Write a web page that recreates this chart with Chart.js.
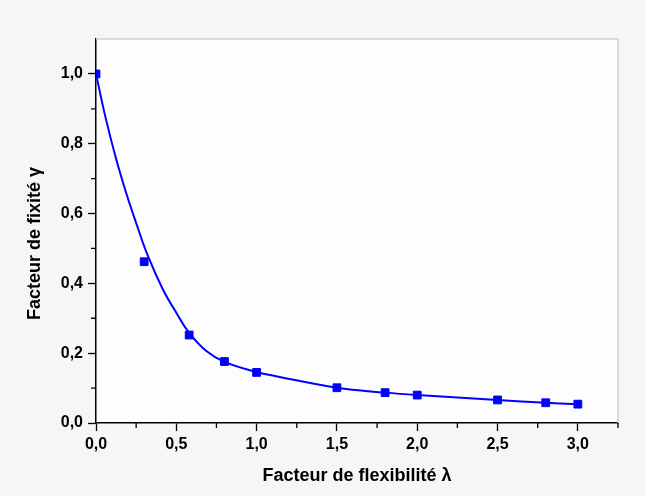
<!DOCTYPE html>
<html>
<head>
<meta charset="utf-8">
<script src="https://cdn.jsdelivr.net/npm/chart.js@4.4.1/dist/chart.umd.min.js"></script>
<style>
  html, body { margin: 0; padding: 0; background: #f6f6f6; }
  #wrap { width: 646px; height: 496px; }
</style>
</head>
<body>
<div id="wrap"><canvas id="c" width="646" height="496"></canvas></div>
<script>
// Measured points (lambda, gamma)
const lambdaPts = [0, 0.3, 0.58, 0.8, 1.0, 1.5, 1.8, 2.0, 2.5, 2.8, 3.0];
const gammaPts  = [1.0, 0.462, 0.252, 0.176, 0.145, 0.101, 0.087, 0.080, 0.066, 0.058, 0.054];

// Fitted curve
const lambdaFit = [0, 0.06, 0.125, 0.19, 0.25, 0.32, 0.415, 0.5, 0.58, 0.685, 0.8, 1.0, 1.12, 1.5, 1.8, 2.0, 2.5, 2.8, 3.0];
const gammaFit  = [1.0, 0.874, 0.757, 0.656, 0.573, 0.482, 0.384, 0.316, 0.258, 0.207, 0.175, 0.146, 0.134, 0.101, 0.087, 0.080, 0.066, 0.058, 0.054];

const xTickMajor = [0, 0.5, 1.0, 1.5, 2.0, 2.5, 3.0];
const yTickMajor = [0, 0.2, 0.4, 0.6, 0.8, 1.0];

const xTitle = 'Facteur de flexibilité λ';
const yTitle = 'Facteur de fixité γ';

const pts = lambdaPts.map((x, i) => ({x: x, y: gammaPts[i]}));
const fit = lambdaFit.map((x, i) => ({x: x, y: gammaFit[i]}));

const isMajor = (list, v) => list.some(m => Math.abs(m - v) < 1e-6);
const fmt = v => v.toFixed(1).replace('.', ',');

const frame = {
  id: 'frame',
  beforeDraw(chart) {
    const {ctx, chartArea: a} = chart;
    ctx.save();
    ctx.fillStyle = '#fdfdfd';
    ctx.fillRect(a.left, a.top, a.right - a.left, a.bottom - a.top);
    ctx.restore();
  },
  afterDraw(chart) {
    const {ctx, chartArea: a, scales} = chart;
    ctx.save();
    ctx.strokeStyle = '#cfcfcf';
    ctx.lineWidth = 1.5;
    ctx.beginPath();
    ctx.moveTo(a.left, a.top);
    ctx.lineTo(a.right, a.top);
    ctx.lineTo(a.right, a.bottom);
    ctx.stroke();
    // minor ticks
    ctx.strokeStyle = '#000';
    ctx.lineWidth = 1.3;
    ctx.beginPath();
    scales.x.ticks.forEach(t => {
      if (!isMajor(xTickMajor, t.value)) {
        const px = scales.x.getPixelForValue(t.value);
        ctx.moveTo(px, a.bottom);
        ctx.lineTo(px, a.bottom + 5);
      }
    });
    scales.y.ticks.forEach(t => {
      if (!isMajor(yTickMajor, t.value) && t.value < 1.05) {
        const py = scales.y.getPixelForValue(t.value);
        ctx.moveTo(a.left, py);
        ctx.lineTo(a.left - 5, py);
      }
    });
    ctx.stroke();
    ctx.restore();
  }
};

new Chart(document.getElementById('c'), {
  type: 'scatter',
  data: {
    datasets: [
      {
        data: pts,
        showLine: false,
        pointStyle: 'rect',
        pointRadius: 5.5,
        pointBackgroundColor: '#0000ff',
        pointBorderColor: '#0000ff',
        pointBorderWidth: 1,
        clip: {left: 0, top: false, right: false, bottom: false}
      },
      {
        data: fit,
        showLine: true,
        borderColor: '#0000ff',
        borderWidth: 2,
        pointRadius: 0,
        tension: 0.4,
        fill: false
      }
    ]
  },
  plugins: [frame],
  options: {
    responsive: false,
    animation: false,
    layout: { padding: { top: 39, right: 28, left: 0, bottom: 0 } },
    plugins: { legend: { display: false }, tooltip: { enabled: false } },
    scales: {
      x: {
        type: 'linear',
        min: 0, max: 3.25,
        afterFit: s => { s.height = 73; },
        border: { display: true, color: '#000', width: 1.5 },
        grid: {
          drawOnChartArea: false,
          drawTicks: true,
          tickLength: 8,
          tickWidth: 1.3,
          tickColor: c => isMajor(xTickMajor, c.tick.value) ? '#000' : 'rgba(0,0,0,0)'
        },
        ticks: {
          stepSize: 0.25,
          autoSkip: false,
          maxRotation: 0,
          padding: 4,
          color: '#000',
          font: { family: '"Liberation Sans", Arial, sans-serif', size: 16, weight: 'bold' },
          callback: v => isMajor(xTickMajor, v) ? fmt(v) : ''
        },
        title: {
          display: true,
          text: xTitle,
          color: '#000',
          padding: { top: 0, bottom: 9 },
          font: { family: '"Liberation Sans", Arial, sans-serif', size: 18, weight: 'bold' }
        }
      },
      y: {
        type: 'linear',
        min: 0, max: 1.1,
        afterFit: s => { s.width = 96; },
        border: { display: true, color: '#000', width: 1.5 },
        grid: {
          drawOnChartArea: false,
          drawTicks: true,
          tickLength: 8,
          tickWidth: 1.3,
          tickColor: c => isMajor(yTickMajor, c.tick.value) ? '#000' : 'rgba(0,0,0,0)'
        },
        ticks: {
          stepSize: 0.1,
          autoSkip: false,
          padding: 5,
          color: '#000',
          font: { family: '"Liberation Sans", Arial, sans-serif', size: 16, weight: 'bold' },
          callback: v => isMajor(yTickMajor, v) ? fmt(v) : ''
        },
        title: {
          display: true,
          text: yTitle + '\u00a0\u00a0\u00a0\u00a0\u00a0',
          color: '#000',
          padding: { top: 24, bottom: 0 },
          font: { family: '"Liberation Sans", Arial, sans-serif', size: 18, weight: 'bold' }
        }
      }
    }
  }
});
</script>
</body>
</html>
